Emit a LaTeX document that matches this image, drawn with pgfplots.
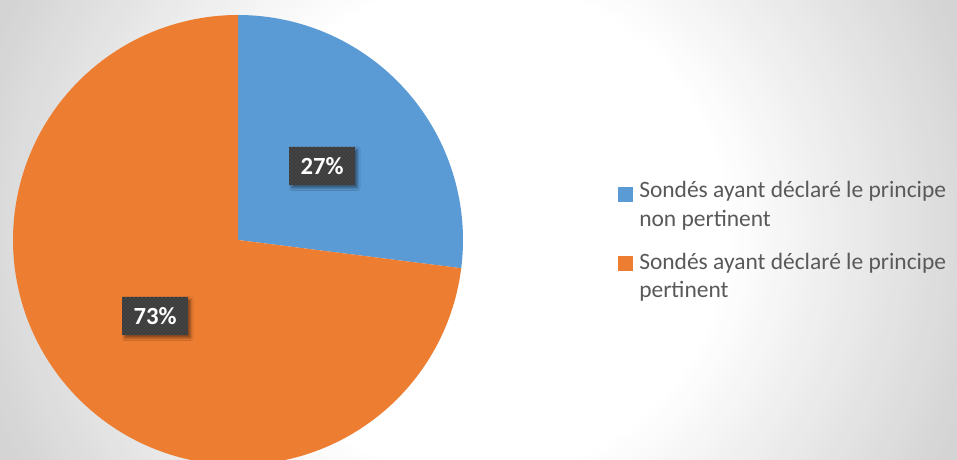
\documentclass[border=0pt]{standalone}
\usepackage{pgfplots}
\pgfplotsset{compat=1.18}
\usepackage{pgfplotstable}
\usepackage{fontspec}
\setmainfont{Carlito}
\usetikzlibrary{patterns,shadows.blur}
\definecolor{cblue}{HTML}{5B9BD5}
\definecolor{corange}{HTML}{ED7D31}
\definecolor{bggray}{HTML}{D4D4D4}
\definecolor{legtext}{HTML}{595959}
\definecolor{lblbox}{HTML}{3C3C3C}
\pgfplotstableread{
label value
nonpertinent 27
pertinent 73
}\piedata
\pgfplotstablegetelem{0}{value}\of\piedata \let\va\pgfplotsretval
\pgfplotstablegetelem{1}{value}\of\piedata \let\vb\pgfplotsretval
\pgfmathsetmacro\angA{90-3.6*\va}
\pgfmathsetmacro\angB{\angA-3.6*\vb}
\begin{document}
\begin{tikzpicture}[x=0.75pt,y=0.75pt]
\clip (0,0) rectangle (957,460);
\fill[bggray] (0,0) rectangle (957,460);
\foreach \i in {0,...,50}{
  \pgfmathsetmacro\rr{520-\i*5.4}
  \pgfmathsetmacro\pc{100-\i*2}
  \fill[bggray!\pc!white] (478.5,230) circle (\rr);
}
\begin{axis}[
  at={(0,0)}, anchor=south west,
  scale only axis, width=717.75pt, height=345pt,
  xmin=0, xmax=957, ymin=0, ymax=460,
  hide axis, clip=true,
]
\addplot[fill=cblue, draw=none, domain=\angA:90, samples=120, smooth]
  ({238+225*cos(x)},{220+225*sin(x)}) -- (axis cs:238,220) -- cycle;
\addplot[fill=corange, draw=none, domain=\angB:\angA, samples=240, smooth]
  ({238+225*cos(x)},{220+225*sin(x)}) -- (axis cs:238,220) -- cycle;
\node[fill=lblbox, minimum width=49.5pt, minimum height=29pt, inner sep=0pt,
  blur shadow={shadow xshift=2pt, shadow yshift=-2pt, shadow blur steps=5, shadow opacity=45}] at (axis cs:322,294) {};
\node[pattern=crosshatch dots, pattern color=gray!55!lblbox, minimum width=49.5pt, minimum height=29pt, inner sep=0pt,
  text=white, font=\fontsize{18.5}{20}\selectfont\bfseries] at (axis cs:322,294) {\va\%};
\node[fill=lblbox, minimum width=49.5pt, minimum height=29pt, inner sep=0pt,
  blur shadow={shadow xshift=2pt, shadow yshift=-2pt, shadow blur steps=5, shadow opacity=45}] at (axis cs:155,144) {};
\node[pattern=crosshatch dots, pattern color=gray!55!lblbox, minimum width=49.5pt, minimum height=29pt, inner sep=0pt,
  text=white, font=\fontsize{18.5}{20}\selectfont\bfseries] at (axis cs:155,144) {\vb\%};
\end{axis}
% legend
\fill[cblue] (618,258) rectangle (633,273);
\node[anchor=base west, inner sep=0pt, text=legtext, font=\fontsize{17.6}{19}\selectfont] at (639,262) {Sondés ayant déclaré le principe};
\node[anchor=base west, inner sep=0pt, text=legtext, font=\fontsize{17.6}{19}\selectfont] at (639,233) {non pertinent};
\fill[corange] (618,189) rectangle (633,204);
\node[anchor=base west, inner sep=0pt, text=legtext, font=\fontsize{17.6}{19}\selectfont] at (639,190) {Sondés ayant déclaré le principe};
\node[anchor=base west, inner sep=0pt, text=legtext, font=\fontsize{17.6}{19}\selectfont] at (639,162) {pertinent};
\end{tikzpicture}
\end{document}
